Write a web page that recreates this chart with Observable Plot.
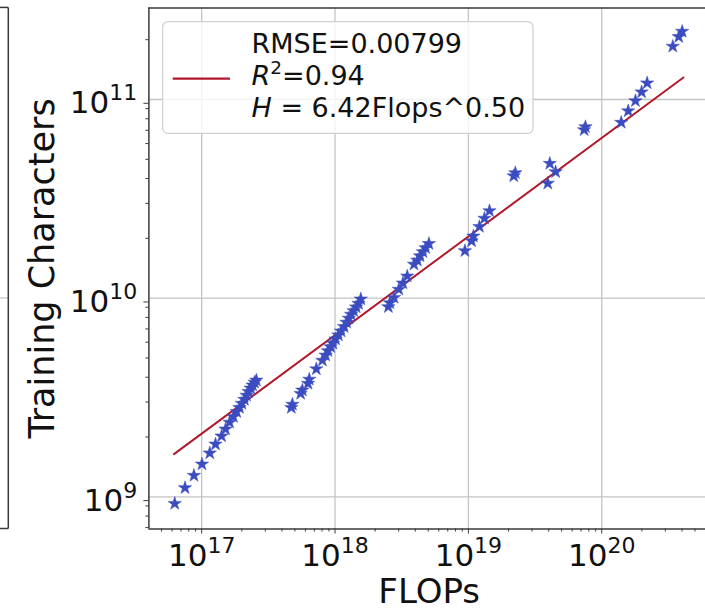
<!DOCTYPE html>
<html>
<head>
<meta charset="utf-8">
<script src="https://cdn.jsdelivr.net/npm/d3@7"></script>
<script src="https://cdn.jsdelivr.net/npm/@observablehq/plot@0.6"></script>
<style>
  html, body { margin: 0; padding: 0; background: #fff; }
  #chart { width: 705px; height: 608px; overflow: hidden; }
</style>
</head>
<body>
<div id="chart"></div>
<script>
// ---- data (FLOPs vs Training Characters) ----
const flops = [
  6.28e16, 7.50e16, 8.75e16, 1.005e17, 1.15e17, 1.27e17, 1.41e17, 1.51e17, 1.62e17, 1.73e17,
  1.83e17, 1.92e17, 2.00e17, 2.09e17, 2.17e17, 2.25e17, 2.33e17, 2.41e17, 2.49e17, 2.57e17,
  4.70e17, 4.79e17, 5.52e17, 5.69e17, 6.27e17, 6.41e17, 7.24e17, 8.04e17, 8.51e17, 8.85e17,
  9.27e17, 9.64e17, 1.01e18, 1.06e18, 1.11e18, 1.17e18, 1.22e18, 1.27e18, 1.32e18, 1.38e18,
  1.44e18, 1.50e18, 1.56e18,
  2.51e18, 2.58e18, 2.77e18, 3.01e18, 3.23e18, 3.48e18, 3.91e18, 4.14e18, 4.34e18, 4.56e18,
  4.78e18, 5.06e18,
  9.42e18, 1.057e19, 1.09e19, 1.21e19, 1.32e19, 1.44e19,
  2.19e19, 2.25e19,
  4.08e19, 3.94e19, 4.51e19,
  7.38e19, 7.55e19,
  1.40e20, 1.58e20, 1.79e20, 1.99e20, 2.19e20,
  3.41e20, 3.78e20, 4.01e20
];
const chars = [
  9.25e8, 1.11e9, 1.28e9, 1.46e9, 1.66e9, 1.84e9, 2.02e9, 2.19e9, 2.37e9, 2.53e9,
  2.68e9, 2.81e9, 2.95e9, 3.09e9, 3.24e9, 3.38e9, 3.52e9, 3.65e9, 3.77e9, 3.86e9,
  2.81e9, 2.92e9, 3.31e9, 3.44e9, 3.72e9, 3.90e9, 4.40e9, 4.86e9, 5.16e9, 5.43e9,
  5.69e9, 5.92e9, 6.22e9, 6.52e9, 6.82e9, 7.18e9, 7.55e9, 7.91e9, 8.28e9, 8.63e9,
  9.02e9, 9.40e9, 9.89e9,
  9.04e9, 9.46e9, 1.007e10, 1.107e10, 1.19e10, 1.29e10, 1.48e10, 1.55e10, 1.63e10, 1.71e10,
  1.79e10, 1.88e10,
  1.73e10, 1.94e10, 2.05e10, 2.29e10, 2.52e10, 2.75e10,
  4.12e10, 4.27e10,
  4.76e10, 3.78e10, 4.32e10,
  7.03e10, 7.28e10,
  7.66e10, 8.75e10, 9.84e10, 1.09e11, 1.21e11,
  1.85e11, 2.07e11, 2.20e11
];
// fitted power law H = 6.42 Flops^0.50, endpoints as drawn
const fitFlops = [6.2e16, 4.1e20];
const fitChars = [1.64e9, 1.29e11];

const xTicks = [1e17, 1e18, 1e19, 1e20];
const yTicks = [1e9, 1e10, 1e11];
const xDomain = [4.02e16, 6.0e20];
const yDomain = [6.887e8, 2.891e11];

const legendLines = ["RMSE=0.00799", "R²=0.94", "H = 6.42Flops^0.50"];
const xLabel = "FLOPs";
const yLabel = "Training Characters";

// ---- build tables ----
const points = flops.map((f, i) => ({flops: f, chars: chars[i]}));
const fit = fitFlops.map((f, i) => ({flops: f, chars: fitChars[i]}));
function minorTicks(dom) {
  const out = [];
  for (let k = Math.floor(Math.log10(dom[0])); k <= Math.ceil(Math.log10(dom[1])); k++)
    for (let m = 2; m <= 9; m++) { const v = m * Math.pow(10, k); if (v >= dom[0] && v <= dom[1]) out.push(v); }
  return out;
}
const xMinor = minorTicks(xDomain);
const yMinor = minorTicks(yDomain);
const expOf = d => String(Math.round(Math.log10(d)));

const BLUE = "#3b4cc0", RED = "#b2182b", SPINE = "#3a3a3a", GRID = "#c4c4c4";
const font = "DejaVu Sans, Liberation Sans, sans-serif";

const chart = Plot.plot({
  width: 705, height: 608,
  marginLeft: 148.4, marginRight: 0, marginTop: 7.4, marginBottom: 79.5,
  style: {fontFamily: font, background: "#fff", color: "#000", overflow: "visible"},
  x: {type: "log", domain: xDomain},
  y: {type: "log", domain: yDomain},
  marks: [
    Plot.gridX(xTicks, {stroke: GRID, strokeOpacity: 1, strokeWidth: 1.3}),
    Plot.gridY(yTicks, {stroke: GRID, strokeOpacity: 1, strokeWidth: 1.3}),
    Plot.line(fit, {x: "flops", y: "chars", stroke: RED, strokeWidth: 2}),
    Plot.dot(points, {x: "flops", y: "chars", symbol: "star", r: 4.2, fill: BLUE, stroke: BLUE, strokeWidth: 0.5}),
    Plot.ruleX([xDomain[0]], {stroke: SPINE, strokeWidth: 1.5}),
    Plot.ruleY([yDomain[0]], {stroke: SPINE, strokeWidth: 1.5}),
    Plot.ruleY([yDomain[1]], {stroke: SPINE, strokeWidth: 1.5}),
    Plot.axisX(xMinor, {tickSize: 3, stroke: SPINE, tickFormat: () => "", label: null}),
    Plot.axisY(yMinor, {tickSize: 3, stroke: SPINE, tickFormat: () => "", label: null}),
    Plot.axisX(xTicks, {tickSize: 5, tickPadding: 9.5, stroke: SPINE, fontSize: 31, tickFormat: expOf, label: null, fill: "#111"}),
    Plot.axisY(yTicks, {tickSize: 5, tickPadding: 6.7, dy: 3.8, stroke: SPINE, fontSize: 31, tickFormat: expOf, label: null, fill: "#111"}),
    Plot.text([xLabel], {text: d => d, frameAnchor: "bottom", textAnchor: "middle", lineAnchor: "middle", dy: 63.6, dx: 2, fontSize: 34, fill: "#111"}),
    Plot.text([yLabel], {text: d => d, frameAnchor: "left", textAnchor: "middle", lineAnchor: "middle", rotate: -90, dx: -106.4, fontSize: 35, fill: "#111"})
  ]
});
document.getElementById("chart").appendChild(chart);

const svg = d3.select(chart);
// tick labels as 10 with superscript exponent
svg.selectAll('g[aria-label="x-axis tick label"] text, g[aria-label="y-axis tick label"] text').each(function() {
  const t = d3.select(this);
  const e = t.text();
  if (!e) return;
  t.text("10");
  t.append("tspan").attr("dy", -13).attr("font-size", 22).text(e);
});

// legend box (upper left inside the axes)
const lg = svg.append("g").attr("font-family", font).attr("fill", "#111").attr("text-anchor", "start");
lg.append("rect").attr("x", 162.7).attr("y", 21.7).attr("width", 370.3).attr("height", 111.6)
  .attr("rx", 5).attr("fill", "#fff").attr("fill-opacity", 0.8).attr("stroke", "#cfcfcf").attr("stroke-width", 1.2);
lg.append("line").attr("x1", 172.7).attr("x2", 230).attr("y1", 78.7).attr("y2", 78.7)
  .attr("stroke", RED).attr("stroke-width", 2.2);
lg.append("text").attr("x", 251.5).attr("y", 53.3).attr("font-size", 27).text(legendLines[0]);
const l2 = lg.append("text").attr("x", 251.5).attr("y", 84.7).attr("font-size", 27);
l2.append("tspan").attr("font-style", "italic").text("R");
l2.append("tspan").attr("font-size", 18.5).attr("dy", -11).text("2");
l2.append("tspan").attr("dy", 11).text(legendLines[1].slice(2));
const l3 = lg.append("text").attr("x", 251.5).attr("y", 116.5).attr("font-size", 27);
l3.append("tspan").attr("font-style", "italic").text("H");
l3.append("tspan").text(legendLines[2].slice(1));

// edge of the neighbouring panel on the left
const nb = svg.append("g");
nb.append("line").attr("x1", 0).attr("x2", 8.3).attr("y1", 298).attr("y2", 298).attr("stroke", GRID).attr("stroke-width", 1.3);
nb.append("line").attr("x1", 8.3).attr("x2", 8.3).attr("y1", 7.4).attr("y2", 528.5).attr("stroke", SPINE).attr("stroke-width", 1.5);
nb.append("line").attr("x1", 0).attr("x2", 8.3).attr("y1", 7.4).attr("y2", 7.4).attr("stroke", SPINE).attr("stroke-width", 1.5);
nb.append("line").attr("x1", 0).attr("x2", 8.3).attr("y1", 528.5).attr("y2", 528.5).attr("stroke", SPINE).attr("stroke-width", 1.5);
</script>
</body>
</html>
